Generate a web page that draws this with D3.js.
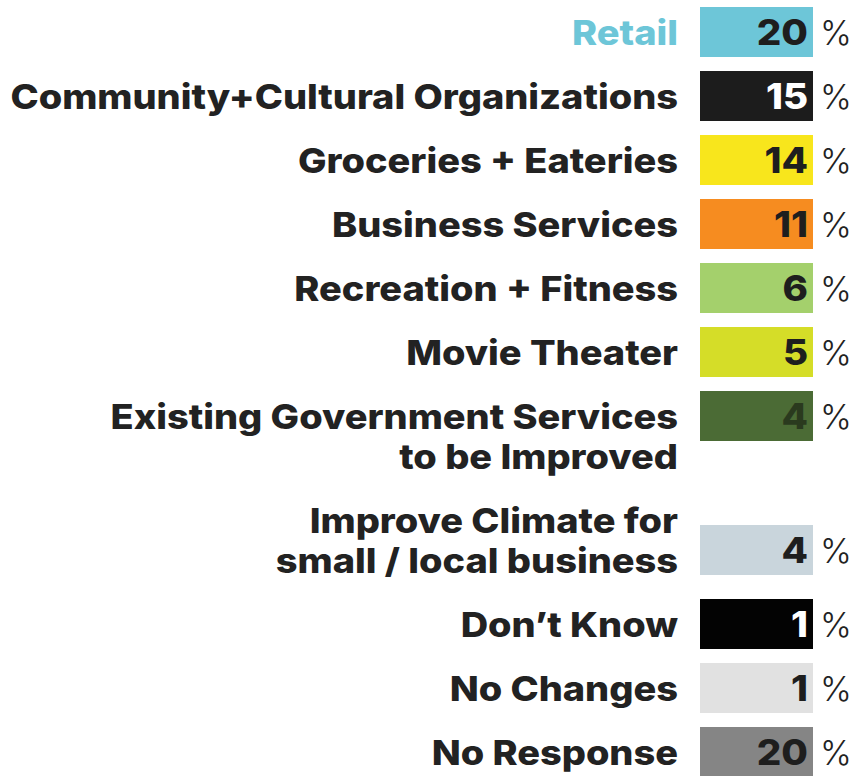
<!DOCTYPE html>
<html>
<head>
<meta charset="utf-8">
<script src="https://cdn.jsdelivr.net/npm/d3@7"></script>
<style>
  html, body { margin: 0; padding: 0; background: #ffffff; }
  svg { display: block; }
</style>
</head>
<body>
<svg id="chart" width="855" height="776"></svg>
<script>
// ---- data ----
const categories = [
  ["Retail"],
  ["Community+Cultural Organizations"],
  ["Groceries + Eateries"],
  ["Business Services"],
  ["Recreation + Fitness"],
  ["Movie Theater"],
  ["Existing Government Services", "to be Improved"],
  ["Improve Climate for", "small / local business"],
  ["Don\u2019t Know"],
  ["No Changes"],
  ["No Response"]
];
const values = [20, 15, 14, 11, 6, 5, 4, 4, 1, 1, 20];
const boxColors = ["#6dc6d8", "#1c1c1c", "#f8e61c", "#f68c20", "#a4d06c", "#d5dd28", "#4b6b35", "#c9d5dc", "#030303", "#e1e1e1", "#858585"];
const numberColors = ["#1e1e1e", "#ffffff", "#1e1e1e", "#1e1e1e", "#1e1e1e", "#1e1e1e", "#2a3a1e", "#1e1e1e", "#ffffff", "#1e1e1e", "#1e1e1e"];
const labelColors = ["#6dc6d8", "#222222", "#222222", "#222222", "#222222", "#222222", "#222222", "#222222", "#222222", "#222222", "#222222"];
const boxAnchorLine = [0, 0, 0, 0, 0, 0, 0, 0.75, 0, 0, 0];

// ---- layout ----
const rowUnit = 64, lineGap = 40, labelRight = 678;
const blocks = [];
let cursor = 0;
categories.forEach((lines, i) => {
  const h = rowUnit + lineGap * (lines.length - 1);
  blocks.push({ i, lines, blockTop: cursor, firstLine: cursor + rowUnit / 2, value: values[i] });
  cursor += h;
});
const y = d3.scaleLinear().domain([0, 1]).range([0, 1]);
const x = d3.scaleLinear().domain([0, 1]).range([700, 813]);
const boxH = 50;
const SX = 1.1;

const svg = d3.select("#chart");
const FONT = "Inter, 'Noto Sans', sans-serif";

const g = svg.selectAll("g.row").data(blocks).enter().append("g").attr("class", "row");

g.each(function(d) {
  const sel = d3.select(this);
  const boxCenter = y(d.firstLine + boxAnchorLine[d.i] * lineGap);
  sel.append("rect")
    .attr("x", x(0)).attr("width", x(1) - x(0))
    .attr("y", boxCenter - boxH / 2).attr("height", boxH)
    .attr("fill", boxColors[d.i]);
  sel.append("g")
    .attr("transform", `translate(${x(1) - 5},${boxCenter + 12.5}) scale(${SX},1)`)
    .append("text")
    .attr("text-anchor", "end")
    .attr("font-family", FONT).attr("font-weight", 800).attr("font-size", 35)
    .attr("fill", numberColors[d.i])
    .text(d.value);
  sel.append("text")
    .attr("x", x(1) + 7).attr("y", boxCenter + 12.5)
    .attr("font-family", FONT).attr("font-weight", 300).attr("font-size", 34)
    .attr("fill", "#222222")
    .text("%");
  d.lines.forEach((ln, k) => {
    sel.append("g")
      .attr("transform", `translate(${labelRight},${y(d.firstLine + k * lineGap) + 12.5}) scale(${SX},1)`)
      .append("text")
      .attr("class", "label")
      .attr("text-anchor", "end")
      .attr("font-family", FONT).attr("font-weight", 800).attr("font-size", 34.5)
      .attr("fill", labelColors[d.i])
      .text(ln);
  });
});
</script>
</body>
</html>
